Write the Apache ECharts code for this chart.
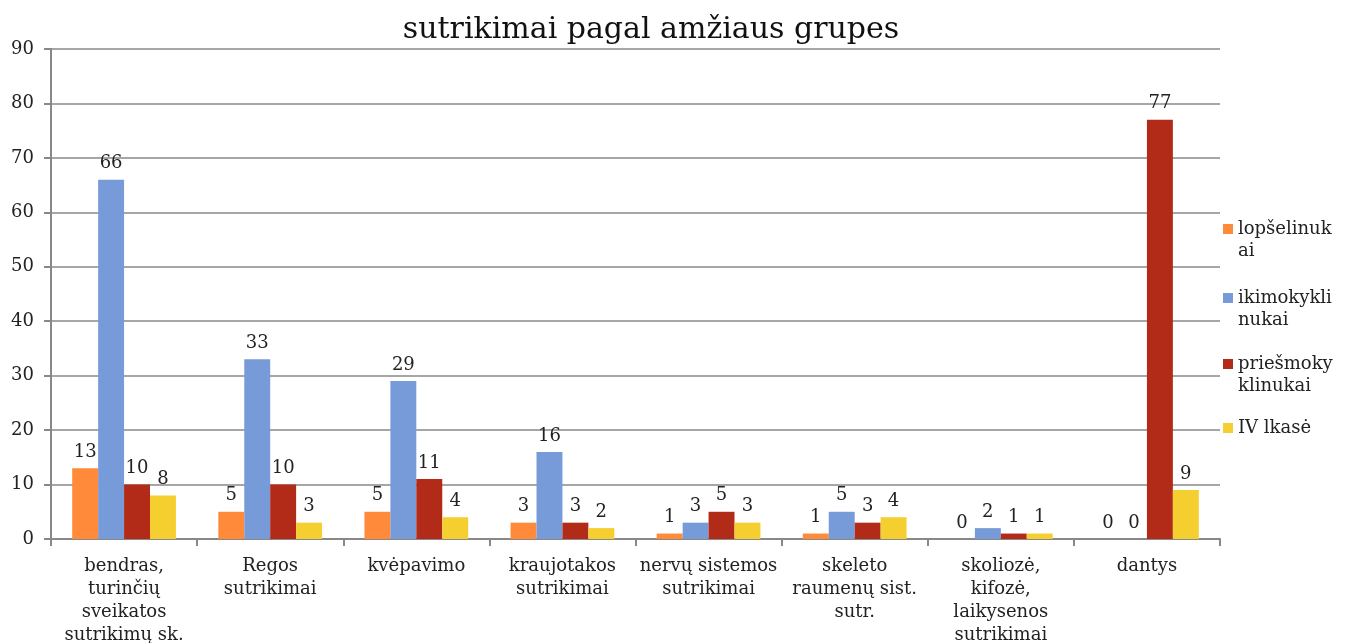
<!DOCTYPE html>
<html><head><meta charset="utf-8">
<script src="https://cdn.jsdelivr.net/npm/echarts@6/dist/echarts.min.js"></script>
<style>html,body{margin:0;padding:0;background:#fff}#c{width:1345px;height:643px}</style>
</head><body><div id="c"></div>
<script>
const categories = ["bendras,\nturinčių\nsveikatos\nsutrikimų sk.", "Regos\nsutrikimai", "kvėpavimo", "kraujotakos\nsutrikimai", "nervų sistemos\nsutrikimai", "skeleto\nraumenų sist.\nsutr.", "skoliozė,\nkifozė,\nlaikysenos\nsutrikimai", "dantys"];
const seriesNames = ["lopšelinukai", "ikimokyklinukai", "priešmokyklinukai", "IV lkasė"];
const legendLabels = ["lopšelinuk\nai", "ikimokykli\nnukai", "priešmoky\nklinukai", "IV lkasė"];
const lopselinukai = [13, 5, 5, 3, 1, 1, 0, 0];
const ikimokyklinukai = [66, 33, 29, 16, 3, 5, 2, 0];
const priesmokyklinukai = [10, 10, 11, 3, 5, 3, 1, 77];
const ivKlase = [8, 3, 4, 2, 3, 4, 1, 9];
const yTicks = [0, 10, 20, 30, 40, 50, 60, 70, 80, 90];

const colors = ["#FF8A3A", "#779BD9", "#B22B18", "#F5CE30"];
const values = [lopselinukai, ikimokyklinukai, priesmokyklinukai, ivKlase];
const font = "'DejaVu Serif', serif";
const legendTops = [196, 265, 331, 417];

const legends = seriesNames.map((n, i) => {
  const twoLine = legendLabels[i].includes('\n');
  return {
    orient: 'vertical', left: 1223, top: legendTops[i], padding: 0,
    itemWidth: 10, itemHeight: 10, icon: 'rect', itemGap: 0,
    data: [n],
    // a leading blank line keeps the marker level with the first text line
    formatter: name => (twoLine ? ' \n' : '') + legendLabels[seriesNames.indexOf(name)],
    textStyle: {fontFamily: font, fontSize: 18, color: '#222', lineHeight: 22}
  };
});

const chart = echarts.init(document.getElementById('c'), null, {renderer: 'canvas'});
chart.setOption({
  animation: false,
  title: {
    text: "sutrikimai pagal amžiaus grupes",
    left: 646, top: 10, textAlign: 'center',
    textStyle: {fontFamily: font, fontSize: 30, fontWeight: 'normal', color: '#111'}
  },
  legend: legends,
  grid: {left: 51, right: 125, top: 49, bottom: 104, outerBoundsMode: 'none', containLabel: false},
  xAxis: {
    type: 'category', data: categories,
    axisLine: {lineStyle: {color: '#888', width: 2}},
    axisTick: {show: true, length: 7, lineStyle: {color: '#888', width: 2}},
    axisLabel: {interval: 0, fontFamily: font, fontSize: 18, color: '#222', lineHeight: 23, margin: 16}
  },
  yAxis: {
    type: 'value', min: 0, max: 90, interval: 10,
    axisLine: {show: true, lineStyle: {color: '#888', width: 2}},
    axisTick: {show: true, length: 7, lineStyle: {color: '#888', width: 2}},
    splitLine: {lineStyle: {color: '#888', width: 1.5}},
    axisLabel: {fontFamily: font, fontSize: 18, color: '#222', margin: 17,
      formatter: v => yTicks.includes(v) ? String(v) : ''}
  },
  series: seriesNames.map((n, i) => ({
    name: n, type: 'bar', data: values[i],
    barGap: '0%', barCategoryGap: '29%',
    itemStyle: {color: colors[i]},
    label: {show: true, position: 'top', distance: 7, fontFamily: font, fontSize: 18, color: '#222'}
  }))
});
</script></body></html>
